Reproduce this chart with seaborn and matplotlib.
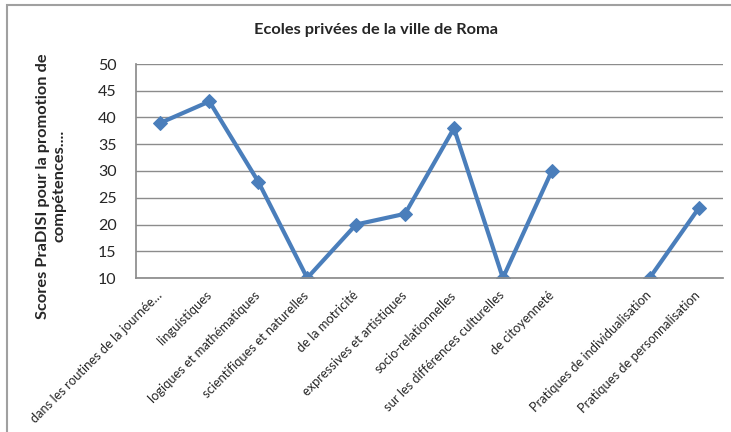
import matplotlib
matplotlib.use("Agg")
import matplotlib.pyplot as plt
import numpy as np
import pandas as pd
import seaborn as sns
from matplotlib.patches import Rectangle

# data (the empty slot has no value)
categories = [
    "dans les routines de la journée…",
    "linguistiques",
    "logiques et mathématiques",
    "scientifiques et naturelles",
    "de la motricité",
    "expressives et artistiques",
    "socio-relationnelles",
    "sur les différences culturelles",
    "de citoyenneté",
    "",
    "Pratiques de individualisation",
    "Pratiques de personnalisation",
]
scores = [39, 43, 28, 10, 20, 22, 38, 10, 30, np.nan, 10, 23]
y_ticks = [10, 15, 20, 25, 30, 35, 40, 45, 50]

title = "Ecoles privées de la ville de Roma"
y_label = "Scores PraDISI pour la promotion de\ncompétences...."

df = pd.DataFrame({"pos": range(len(categories)), "score": scores})

sns.set_theme(style="white")
plt.rcParams["font.family"] = ["Lato", "DejaVu Sans"]

fig = plt.figure(figsize=(7.31, 4.32), dpi=100)
ax = fig.add_axes([136 / 731, 1 - 278 / 432, 587 / 731, 214 / 432])

# draw each unbroken run of points so the gap stays open
df["run"] = df["score"].isna().cumsum()
for _, seg in df.dropna().groupby("run"):
    sns.lineplot(data=seg, x="pos", y="score", ax=ax, color="#4a7ebb",
                 linewidth=3, marker="D", markersize=7.5,
                 markeredgecolor="#4a7ebb", legend=False)

ax.set_xlim(-0.5, len(categories) - 0.5)
ax.set_ylim(10, 50)
ax.set_yticks(y_ticks)
ax.set_xticks(range(len(categories)))
ax.set_xticklabels(categories, rotation=45, ha="right", va="center",
                   rotation_mode="anchor", fontsize=9.3)
ax.tick_params(axis="y", length=0, pad=14, labelsize=11.5)
ax.tick_params(axis="x", length=0, pad=11)
ax.yaxis.grid(True, color="#8c8c8c", linewidth=1)
ax.set_axisbelow(True)
for s in ["top", "right"]:
    ax.spines[s].set_visible(False)
ax.spines["left"].set_color("#8c8c8c")
ax.spines["bottom"].set_color("#8c8c8c")
ax.set_xlabel("")
ax.set_ylabel("")

fig.text(376 / 731, 1 - 30 / 432, title, ha="center", va="center",
         fontsize=11.8, fontweight="bold")
fig.text(51 / 731, 1 - 186 / 432, y_label, ha="center", va="center",
         rotation=90, fontsize=11.8, fontweight="bold", multialignment="center")

# outer chart frame, cut by the image edges on the right and bottom
fig.patches.append(Rectangle((7 / 731, -0.2), 1.2, 1.2 - 7 / 432 + 0.004,
                             transform=fig.transFigure, fill=False,
                             edgecolor="#a0a0a0", linewidth=1.5))

fig.savefig("out.png", dpi=100)
